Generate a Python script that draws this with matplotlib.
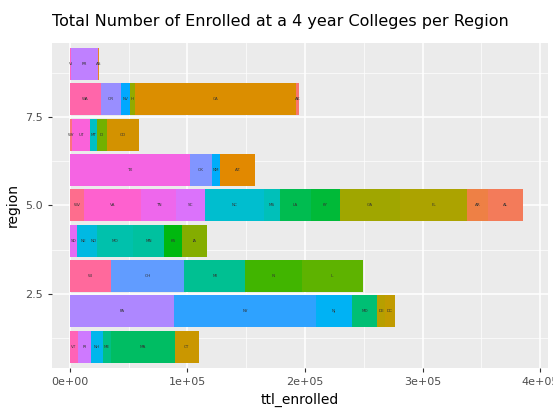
import numpy as np
import matplotlib.pyplot as plt

regions = list(range(1, 10))
# states per region, left to right, with enrollment
r_states = [
    ["VT", "RI", "NH", "ME", "MA", "CT"],
    ["PA", "NY", "NJ", "MD", "DE", "DC"],
    ["WI", "OH", "MI", "IN", "IL"],
    ["SD", "NE", "ND", "MO", "MN", "KS", "IA"],
    ["WV", "VA", "TN", "SC", "NC", "MS", "LA", "KY", "GA", "FL", "AR", "AL"],
    ["TX", "OK", "NM", "AZ"],
    ["WY", "UT", "MT", "ID", "CO"],
    ["WA", "OR", "NV", "HI", "CA", "AK"],
    ["VI", "PR", "AS"],
]
r_values = [
    [6500, 11200, 10500, 6500, 54500, 20400],
    [88500, 120900, 30400, 21600, 7000, 8000],
    [34900, 62100, 51900, 48500, 51900],
    [6000, 11000, 6000, 30600, 26400, 15300, 21300],
    [11900, 48500, 29800, 24700, 50200, 13600, 26400, 24700, 51100, 57000, 17900, 29800],
    [102000, 18700, 6800, 29800],
    [1700, 15300, 6000, 8500, 27200],
    [26400, 17000, 7700, 4300, 137000, 2600],
    [1000, 23000, 500],
]


def hcl(h, c=100, l=65):
    # polar LUV -> sRGB (ggplot hue_pal style)
    hr = np.radians(h)
    u, v = c * np.cos(hr), c * np.sin(hr)
    Y = ((l + 16) / 116) ** 3
    un, vn = 0.1978398, 0.4683363
    up, vp = u / (13 * l) + un, v / (13 * l) + vn
    X = Y * 9 * up / (4 * vp)
    Z = Y * (12 - 3 * up - 20 * vp) / (4 * vp)
    M = np.array([[3.2404542, -1.5371385, -0.4985314],
                  [-0.9692660, 1.8760108, 0.0415560],
                  [0.0556434, -0.2040259, 1.0572252]])
    rgb = M @ np.array([X, Y, Z])
    rgb = np.where(rgb <= 0.0031308, 12.92 * rgb, 1.055 * np.abs(rgb) ** (1 / 2.4) - 0.055)
    return np.clip(rgb, 0, 1)


all_states = sorted({s for r in r_states for s in r})
n = len(all_states)
hues = np.linspace(15, 375, n + 1)[:-1]
colors = {s: hcl(h) for s, h in zip(all_states, hues)}

fig = plt.figure(figsize=(5.53, 4.2), dpi=100)
ax = fig.add_axes([0.094, 0.124, 0.897, 0.774])
ax.set_facecolor("#EBEBEB")

for reg, sts, vals in zip(regions, r_states, r_values):
    left = 0
    for s, v in zip(sts, vals):
        ax.barh(reg, v, left=left, height=0.9, color=colors[s], zorder=3)
        ax.text(left + v / 2, reg, s, ha="center", va="center", fontsize=3, color="#333333", zorder=4)
        left += v

ax.set_xlim(-15300, 406800)
ax.set_ylim(0.4, 9.6)
ax.set_xticks([0, 1e5, 2e5, 3e5, 4e5])
ax.set_xticklabels(["0e+00", "1e+05", "2e+05", "3e+05", "4e+05"])
ax.set_yticks([2.5, 5.0, 7.5])
ax.set_yticklabels(["2.5", "5.0", "7.5"])
ax.set_xticks([0.5e5, 1.5e5, 2.5e5, 3.5e5], minor=True)
ax.set_yticks([1.25, 3.75, 6.25, 8.75], minor=True)
ax.grid(True, which="major", color="white", linewidth=1.1, zorder=0)
ax.grid(True, which="minor", color="white", linewidth=0.5, zorder=0)
for sp in ax.spines.values():
    sp.set_visible(False)
ax.tick_params(which="both", length=3, color="#333333", labelsize=8, labelcolor="#4D4D4D")
ax.tick_params(which="minor", length=0)
ax.set_xlabel("ttl_enrolled", fontsize=10)
ax.set_ylabel("region", fontsize=10)
fig.text(0.094, 0.948, "Total Number of Enrolled at a 4 year Colleges per Region", fontsize=11.5, va="center")
fig.savefig("out.png", dpi=100)
